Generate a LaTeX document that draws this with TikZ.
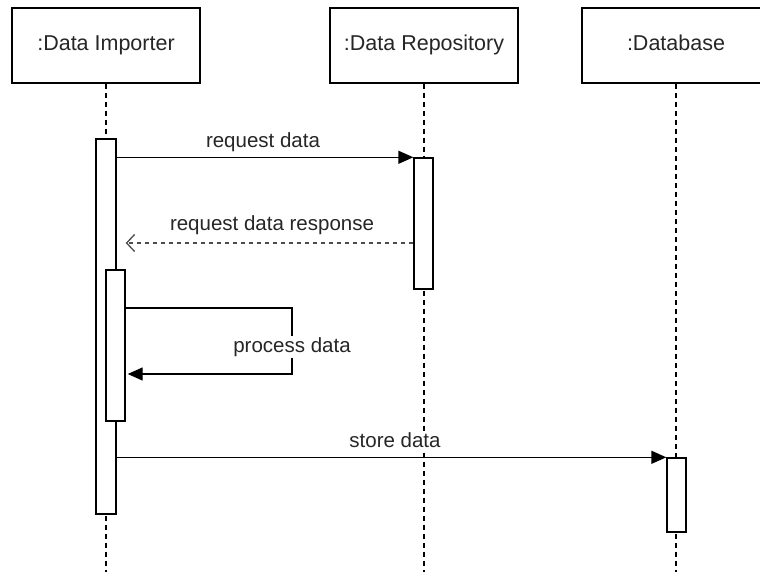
\documentclass[tikz,border=0pt]{standalone}
\usepackage{fontspec}
\setmainfont{Liberation Sans}
\usetikzlibrary{arrows.meta}

\begin{document}
\begin{tikzpicture}[x=1pt,y=-1pt,
  font=\fontsize{20.5}{24}\selectfont,
  head/.style={draw, line width=1.4pt, minimum width=188pt, minimum height=75pt,
               inner sep=0pt, fill=white, text=black!85,
               font=\fontsize{21.5}{25}\selectfont, text height=15.5pt, text depth=4.5pt},
  life/.style={line width=1.2pt, dash pattern=on 5pt off 4pt},
  act/.style={draw, fill=white, line width=1.4pt, minimum width=19pt, inner sep=0pt},
  msg/.style={line width=1.4pt, -{Triangle[length=15pt,width=13pt]}},
  ret/.style={line width=1.3pt, black!70, dash pattern=on 4.5pt off 3.5pt,
              -{Straight Barb[length=8pt,width=17pt,line width=1.3pt]}},
  lbl/.style={inner sep=1pt, fill=white, text=black!85}
]
\useasboundingbox (0,0) rectangle (760,572);
\clip (0,0) rectangle (760,572);

% participant heads
\node[head] (h1) at (106,45.5) {:Data Importer};
\node[head] (h2) at (424,45.5) {:Data Repository};
\node[head] (h3) at (676,45.5) {:Database};

% lifelines
\draw[life] (h1.south) -- (h1.south |- 0,572);
\draw[life] (h2.south) -- (h2.south |- 0,572);
\draw[life] (h3.south) -- (h3.south |- 0,572);

% activation bars
\node[act, minimum width=20pt, minimum height=375pt] (a1) at (106,326.5) {};
\node[act, minimum height=151pt] (i1) at (115.5,345.5) {};
\node[act, minimum height=131pt] (a2) at (423.5,223.5) {};
\node[act, minimum height=74pt] (a3) at (676.5,495) {};

% request data
\draw[msg] (a1.east |- a2.north) -- (a2.north west);
\node[lbl] (l1) at (263,142) {request data};

% response
\draw[ret] (a2.west |- 0,243) -- (i1.east |- 0,243);
\node[lbl] (l2) at (272,225) {request data response};

% self call
\coordinate (s1) at (292,308);
\coordinate (s2) at (292,374);
\draw[msg, shorten >=2pt] (i1.east |- s1) -- (s1) -- (s2) -- (i1.east |- s2);
\node[lbl] (l3) at (292,347) {process data};

% store data
\draw[msg] (a1.east |- a3.north) -- (a3.north west);
\node[lbl] (l4) at (395,440) {store data};
\end{tikzpicture}
\end{document}
